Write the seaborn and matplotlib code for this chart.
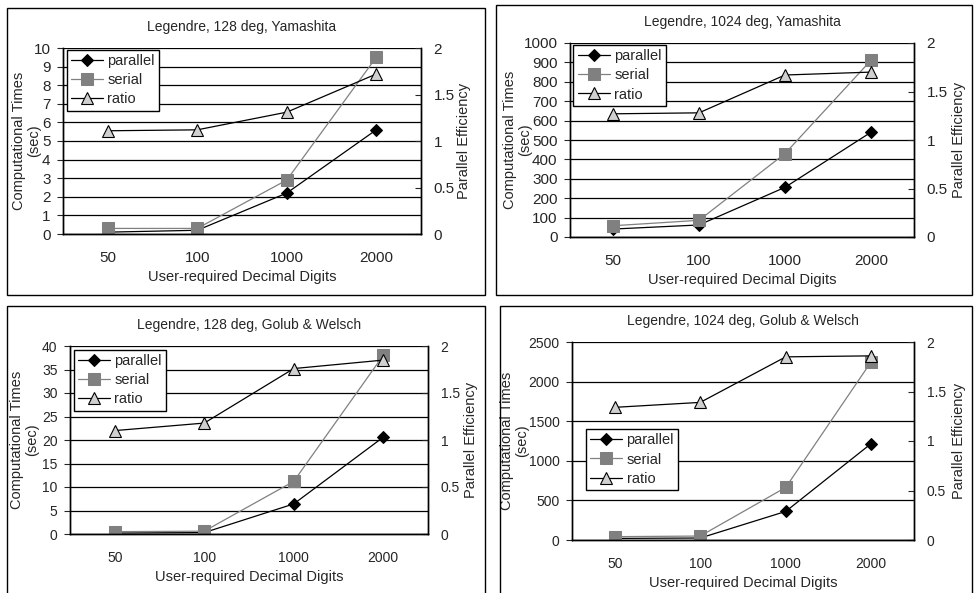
import matplotlib
matplotlib.use("Agg")
import matplotlib.pyplot as plt
from matplotlib.patches import Rectangle
from matplotlib.ticker import FixedLocator
import numpy as np
import seaborn as sns

# data
digits = ["50", "100", "1000", "2000"]

titles = ["Legendre, 128 deg, Yamashita", "Legendre, 1024 deg, Yamashita",
          "Legendre, 128 deg, Golub & Welsch", "Legendre, 1024 deg, Golub & Welsch"]

parallel_128_yam = [0.1, 0.2, 2.2, 5.6]
serial_128_yam = [0.3, 0.3, 2.9, 9.5]
ratio_128_yam = [1.11, 1.12, 1.31, 1.72]

parallel_1024_yam = [41, 62, 256, 540]
serial_1024_yam = [58, 86, 430, 911]
ratio_1024_yam = [1.27, 1.28, 1.67, 1.70]

parallel_128_gw = [0.2, 0.3, 6.4, 20.6]
serial_128_gw = [0.5, 0.6, 11.2, 38.0]
ratio_128_gw = [1.10, 1.18, 1.76, 1.85]

parallel_1024_gw = [20, 25, 361, 1218]
serial_1024_gw = [42, 50, 664, 2252]
ratio_1024_gw = [1.34, 1.39, 1.85, 1.86]

left_max = [10, 1000, 40, 2500]
left_step = [1, 100, 5, 500]

panels = [
    (parallel_128_yam, serial_128_yam, ratio_128_yam),
    (parallel_1024_yam, serial_1024_yam, ratio_1024_yam),
    (parallel_128_gw, serial_128_gw, ratio_128_gw),
    (parallel_1024_gw, serial_1024_gw, ratio_1024_gw),
]

sns.set_style("white")
plt.rcParams["font.family"] = ["Liberation Sans", "DejaVu Sans"]

W, H = 974, 593
fig = plt.figure(figsize=(W / 100, H / 100), dpi=100)

# pixel boxes: axes (l, t, r, b), frame (l, t, r, b)
axes_px = [(63, 48, 421, 234), (570, 43, 914, 237), (70, 346, 428, 534), (572, 342, 914, 540)]
frames_px = [(7, 8, 485, 295), (496, 5, 972, 295), (7, 306, 485, 598), (500, 306, 972, 598)]
legend_pos = [(0.01, 0.99), (0.01, 0.99), (0.01, 0.98), (0.04, 0.56)]
left_label_x = [-0.06, -0.11, -0.085, -0.125]
right_label_x = [1.10, 1.11, 1.10, 1.11]
tick_fs = [11, 11, 10, 10]

for (l, t, r, b) in frames_px:
    fig.add_artist(Rectangle((l / W, 1 - b / H), (r - l) / W, (b - t) / H,
                             transform=fig.transFigure, fill=False,
                             edgecolor="black", linewidth=1.0))

pos = np.arange(len(digits))

for i, (par, ser, rat) in enumerate(panels):
    l, t, r, b = axes_px[i]
    ax = fig.add_axes([l / W, 1 - b / H, (r - l) / W, (b - t) / H])
    ax2 = ax.twinx()

    sns.lineplot(x=pos, y=par, ax=ax, color="black", linewidth=0.9, marker="D",
                 markersize=6, markerfacecolor="black", markeredgecolor="black",
                 label="parallel")
    sns.lineplot(x=pos, y=ser, ax=ax, color="#808080", linewidth=0.9, marker="s",
                 markersize=8, markerfacecolor="#808080", markeredgecolor="#808080",
                 label="serial")
    sns.lineplot(x=pos, y=rat, ax=ax2, color="black", linewidth=0.9, marker="^",
                 markersize=9, markerfacecolor="#d0d0d0", markeredgecolor="black",
                 markeredgewidth=0.8, label="ratio")

    ax.set_xlim(-0.5, len(digits) - 0.5)
    ax.set_ylim(0, left_max[i])
    ax.set_yticks(np.arange(0, left_max[i] + left_step[i] / 2, left_step[i]))
    ax.set_xticks(pos)
    ax.set_xticklabels(digits)
    ax.xaxis.set_minor_locator(FixedLocator(pos[:-1] + 0.5))
    ax.tick_params(axis="x", which="major", length=0, pad=12, labelsize=tick_fs[i])
    ax.tick_params(axis="x", which="minor", direction="in", length=4, width=0.8)
    ax.tick_params(axis="y", direction="out", length=4, width=0.8, pad=5,
                   labelsize=tick_fs[i], left=True)
    ax.yaxis.grid(True, color="black", linewidth=0.9)
    ax.set_axisbelow(True)

    ax2.set_ylim(0, 2)
    ax2.set_yticks([0, 0.5, 1, 1.5, 2])
    ax2.set_yticklabels(["0", "0.5", "1", "1.5", "2"])
    ax2.tick_params(axis="y", direction="in", length=4, width=0.8, pad=9,
                    labelsize=tick_fs[i], right=True)

    for a in (ax, ax2):
        a.spines["top"].set_visible(False)
        for s in ("left", "right", "bottom"):
            a.spines[s].set_color("black")
            a.spines[s].set_linewidth(1.0)

    ax.set_title(titles[i], fontsize=10, pad=12)
    ax.set_xlabel("User-required Decimal Digits", fontsize=10.5, labelpad=4)
    ax.set_ylabel("Computational Times\n(sec)", fontsize=10.5, linespacing=1.1)
    ax.yaxis.set_label_coords(left_label_x[i], 0.5)
    ax2.set_ylabel("Parallel Efficiency", fontsize=10.5)
    ax2.yaxis.set_label_coords(right_label_x[i], 0.5)

    h1, l1 = ax.get_legend_handles_labels()
    h2, l2 = ax2.get_legend_handles_labels()
    ax.get_legend().remove()
    ax2.get_legend().remove()
    leg = ax2.legend(h1 + h2, l1 + l2, loc="upper left", bbox_to_anchor=legend_pos[i],
                     fontsize=10.5, frameon=True, fancybox=False, framealpha=1,
                     edgecolor="black", handlelength=2.2, handletextpad=0.3,
                     borderpad=0.3, labelspacing=0.35, borderaxespad=0)
    leg.get_frame().set_linewidth(1.0)

fig.savefig("out.png", dpi=100)
